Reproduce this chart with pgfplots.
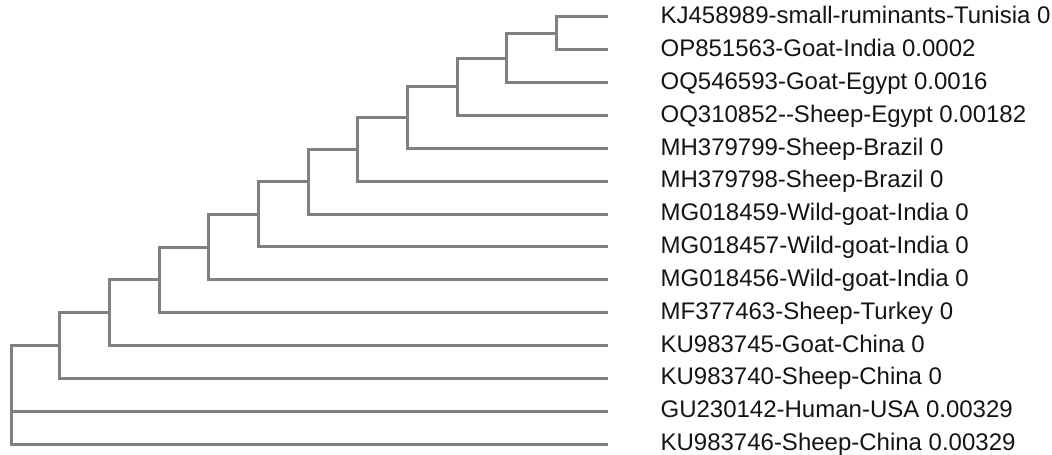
\documentclass[border=0pt]{standalone}
\usepackage{pgfplots}
\pgfplotsset{compat=1.18}
\usepackage{fontspec}
\setmainfont{Liberation Sans}
\definecolor{branch}{RGB}{128,128,128}
\definecolor{labtxt}{RGB}{20,20,20}
\tikzset{br/.style={draw=branch, line width=1.5pt, line join=miter, line cap=rect, mark=none, solid}}
\begin{document}
\begin{tikzpicture}
\useasboundingbox (0,0) rectangle (526pt,227pt);
\clip (0,0) rectangle (526pt,227pt);
\begin{axis}[
  at={(0,0)}, anchor=south west,
  scale only axis, width=526pt, height=227pt,
  xmin=-0.2013, xmax=20.978,
  ymin=-0.5175, ymax=13.303, y dir=reverse,
  hide axis, clip=false,
]
\addplot[br] coordinates {(12,0) (11,0) (11,1) (12,1)};
\addplot[br] coordinates {(11,0.5) (10,0.5) (10,2) (12,2)};
\addplot[br] coordinates {(10,1.25) (9,1.25) (9,3) (12,3)};
\addplot[br] coordinates {(9,2.125) (8,2.125) (8,4) (12,4)};
\addplot[br] coordinates {(8,3.0625) (7,3.0625) (7,5) (12,5)};
\addplot[br] coordinates {(7,4.03125) (6,4.03125) (6,6) (12,6)};
\addplot[br] coordinates {(6,5.015625) (5,5.015625) (5,7) (12,7)};
\addplot[br] coordinates {(5,6.0078) (4,6.0078) (4,8) (12,8)};
\addplot[br] coordinates {(4,7.0039) (3,7.0039) (3,9) (12,9)};
\addplot[br] coordinates {(3,8.002) (2,8.002) (2,10) (12,10)};
\addplot[br] coordinates {(2,9.001) (1,9.001) (1,11) (12,11)};
\addplot[br] coordinates {(1,10.0005) (0.03,10.0005) (0.03,13) (12,13)};
\addplot[br] coordinates {(0.03,12) (12,12)};
\addplot[draw=none, mark=none, nodes near coords={\pgfplotspointmeta},
  point meta=explicit symbolic,
  every node near coord/.style={anchor=west, inner sep=0pt, text=labtxt,
    font=\fontsize{12}{14}\selectfont, text height=8.6pt, text depth=0pt, yshift=1pt}]
coordinates {
(13.09,0) [KJ458989-small-ruminants-Tunisia 0]
(13.09,1) [OP851563-Goat-India 0.0002]
(13.09,2) [OQ546593-Goat-Egypt 0.0016]
(13.09,3) [OQ310852-{}-Sheep-Egypt 0.00182]
(13.09,4) [MH379799-Sheep-Brazil 0]
(13.09,5) [MH379798-Sheep-Brazil 0]
(13.09,6) [MG018459-Wild-goat-India 0]
(13.09,7) [MG018457-Wild-goat-India 0]
(13.09,8) [MG018456-Wild-goat-India 0]
(13.09,9) [MF377463-Sheep-Turkey 0]
(13.09,10) [KU983745-Goat-China 0]
(13.09,11) [KU983740-Sheep-China 0]
(13.09,12) [GU230142-Human-USA 0.00329]
(13.09,13) [KU983746-Sheep-China 0.00329]
};
\end{axis}
\end{tikzpicture}
\end{document}
